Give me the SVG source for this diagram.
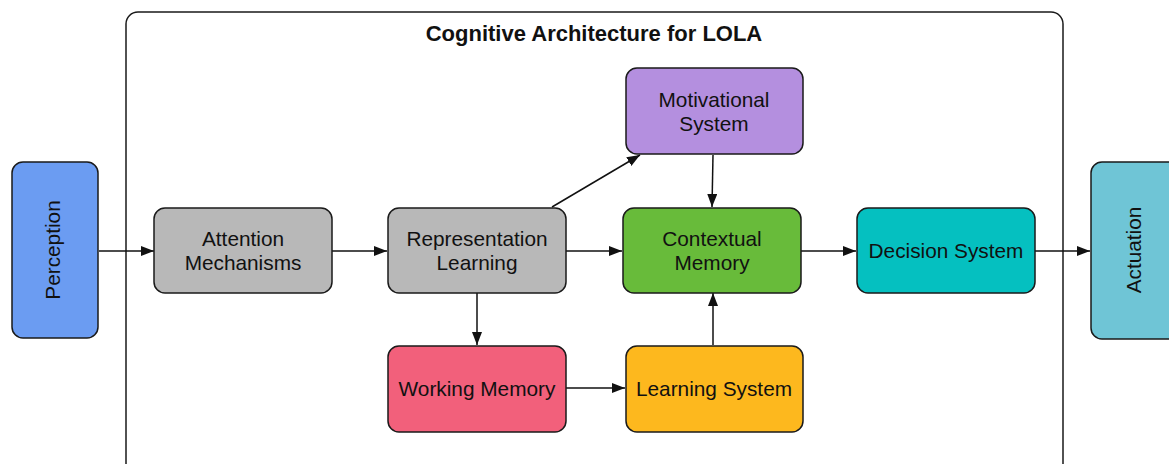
<svg xmlns="http://www.w3.org/2000/svg" width="1169" height="464" viewBox="0 0 1169 464">
<style>
.box{stroke:#1a1a1a;stroke-width:1.5}
.t{font-family:"Liberation Sans",Arial,sans-serif;font-size:20.8px;fill:#111;text-anchor:middle}
.title{font-family:"Liberation Sans",Arial,sans-serif;font-size:22px;font-weight:bold;fill:#111;text-anchor:middle}
.c{stroke:#111;stroke-width:1.5;fill:none;marker-end:url(#ah)}
</style>
<defs>
<marker id="ah" markerWidth="13" markerHeight="10" refX="13" refY="5" orient="auto" markerUnits="userSpaceOnUse">
<path d="M0,0 L13,5 L0,10 Z" fill="#111"/>
</marker>
</defs>
<rect width="1169" height="464" fill="#fff"/>
<g id="container">
<rect x="126" y="12" width="937" height="470" rx="12" fill="none" stroke="#1a1a1a" stroke-width="1.5"/>
<text class="title" x="594" y="41">Cognitive Architecture for LOLA</text>
</g>
<g id="connectors">
<line class="c" x1="99" y1="251" x2="154" y2="251"/>
<line class="c" x1="332" y1="251" x2="387" y2="251"/>
<line class="c" x1="566" y1="251" x2="622" y2="251"/>
<line class="c" x1="801" y1="251" x2="856" y2="251"/>
<line class="c" x1="1035" y1="251" x2="1090" y2="251"/>
<line class="c" x1="552" y1="207" x2="640" y2="155"/>
<line class="c" x1="713" y1="155" x2="712" y2="207"/>
<line class="c" x1="477" y1="293" x2="477" y2="345"/>
<line class="c" x1="566" y1="388" x2="625" y2="388"/>
<line class="c" x1="713" y1="345" x2="713" y2="293"/>
</g>
<g id="perception">
<rect class="box" x="12" y="162" width="86" height="176" rx="11" fill="#6b9cf2"/>
<text class="t" transform="translate(60,250) rotate(-90)">Perception</text>
</g>
<g id="attention">
<rect class="box" x="154" y="208" width="178" height="85" rx="11" fill="#b8b8b8"/>
<text class="t" x="243" y="246">Attention</text>
<text class="t" x="243" y="270">Mechanisms</text>
</g>
<g id="representation">
<rect class="box" x="388" y="208" width="178" height="85" rx="11" fill="#b8b8b8"/>
<text class="t" x="477" y="246">Representation</text>
<text class="t" x="477" y="270">Learning</text>
</g>
<g id="motivational">
<rect class="box" x="626" y="68" width="177" height="86" rx="11" fill="#b48fdf"/>
<text class="t" x="714" y="107">Motivational</text>
<text class="t" x="714" y="131">System</text>
</g>
<g id="contextual">
<rect class="box" x="623" y="208" width="178" height="85" rx="11" fill="#68bb3a"/>
<text class="t" x="712" y="246">Contextual</text>
<text class="t" x="712" y="270">Memory</text>
</g>
<g id="decision">
<rect class="box" x="857" y="208" width="178" height="85" rx="11" fill="#05c0c0"/>
<text class="t" x="946" y="258">Decision System</text>
</g>
<g id="working">
<rect class="box" x="388" y="346" width="178" height="86" rx="11" fill="#f2607b"/>
<text class="t" x="477" y="396">Working Memory</text>
</g>
<g id="learning">
<rect class="box" x="626" y="346" width="177" height="86" rx="11" fill="#fdb81e"/>
<text class="t" x="714" y="396">Learning System</text>
</g>
<g id="actuation">
<rect class="box" x="1091" y="162" width="88" height="177" rx="11" fill="#6fc5d6"/>
<text class="t" transform="translate(1141,250) rotate(-90)">Actuation</text>
</g>
</svg>
